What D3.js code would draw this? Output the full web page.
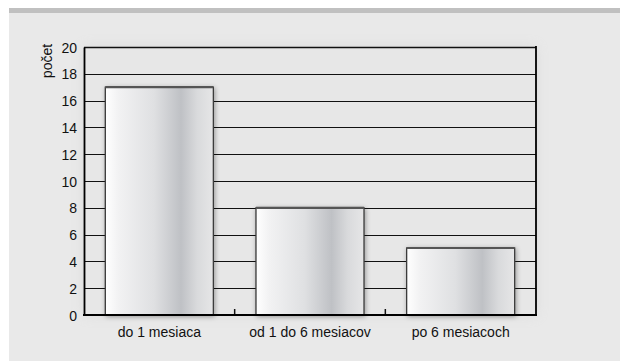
<!DOCTYPE html>
<html><head><meta charset="utf-8">
<script src="https://cdn.jsdelivr.net/npm/d3@7"></script>
<style>
html,body{margin:0;padding:0;background:#fff;}
svg{display:block;}
text{font-family:"Liberation Sans",Arial,sans-serif;fill:#111;}
</style></head>
<body>
<script>
const categories = ["do 1 mesiaca", "od 1 do 6 mesiacov", "po 6 mesiacoch"];
const values = [17, 8, 5];
const yTicks = [0, 2, 4, 6, 8, 10, 12, 14, 16, 18, 20];
const yLabel = "počet";

const W = 620, H = 361;
const svg = d3.select("body").append("svg").attr("width", W).attr("height", H);
const defs = svg.append("defs");

const grad = defs.append("linearGradient").attr("id", "barGrad").attr("x1", "0").attr("x2", "1").attr("y1", "0").attr("y2", "0");
[[0, "#ffffff"], [0.12, "#f2f2f3"], [0.45, "#dfe0e2"], [0.7, "#bfc1c5"], [0.85, "#d9dadc"], [1, "#e6e6e7"]]
  .forEach(([o, c]) => grad.append("stop").attr("offset", o).attr("stop-color", c));

const sh = defs.append("filter").attr("id", "shadow").attr("x", "-20%").attr("y", "-20%").attr("width", "140%").attr("height", "140%");
sh.append("feGaussianBlur").attr("in", "SourceAlpha").attr("stdDeviation", 2.5).attr("result", "b");
sh.append("feOffset").attr("in", "b").attr("dx", 1).attr("dy", 1).attr("result", "o");
sh.append("feComponentTransfer").attr("in", "o").attr("result", "o2").append("feFuncA").attr("type", "linear").attr("slope", 0.35);
const m = sh.append("feMerge");
m.append("feMergeNode").attr("in", "o2");
m.append("feMergeNode").attr("in", "SourceGraphic");

const pshadow = defs.append("filter").attr("id", "pshadow").attr("x", "-10%").attr("y", "-10%").attr("width", "120%").attr("height", "120%");
pshadow.append("feGaussianBlur").attr("stdDeviation", 6);

// top band and panel
svg.append("rect").attr("x", 9).attr("y", 8).attr("width", W - 9).attr("height", 5).attr("fill", "#c0c0c0");
svg.append("rect").attr("x", 9).attr("y", 13).attr("width", W - 9).attr("height", H - 13).attr("fill", "#e9e9e9");

const margin = {left: 84, right: 84, top: 47, bottom: 46};
const x0 = margin.left, x1 = 536, yTop = 47, yBot = 315;

const x = d3.scaleBand().domain(categories).range([x0, x1]).paddingInner(0.283).paddingOuter(0.1415);
const y = d3.scaleLinear().domain([0, 20]).range([yBot, yTop]);

// plot area soft shadow
svg.append("rect").attr("x", x0).attr("y", yTop).attr("width", x1 - x0).attr("height", yBot - yTop)
  .attr("fill", "#cfcfcf").attr("filter", "url(#pshadow)").attr("opacity", 0.6);
svg.append("rect").attr("x", x0).attr("y", yTop).attr("width", x1 - x0).attr("height", yBot - yTop).attr("fill", "#e7e7e7");

// gridlines
svg.append("g").selectAll("line").data(yTicks.filter(d => d > 0)).join("line")
  .attr("x1", x0).attr("x2", x1).attr("y1", d => Math.round(y(d)) + 0.5).attr("y2", d => Math.round(y(d)) + 0.5)
  .attr("stroke", "#111").attr("stroke-width", d => d === 20 ? 1.6 : 1.1);

// bars
svg.append("g").selectAll("rect").data(values).join("rect")
  .attr("x", (d, i) => x(categories[i]))
  .attr("y", d => y(d))
  .attr("width", x.bandwidth())
  .attr("height", d => yBot - y(d))
  .attr("fill", "url(#barGrad)")
  .attr("stroke", "#3a3a3a").attr("stroke-width", 1.3)
  .attr("filter", "url(#shadow)");
svg.append("g").selectAll("line").data(values).join("line")
  .attr("x1", (d, i) => x(categories[i])).attr("x2", (d, i) => x(categories[i]) + x.bandwidth())
  .attr("y1", d => y(d)).attr("y2", d => y(d))
  .attr("stroke", "#555").attr("stroke-width", 2.2);

// axes
const yAxis = d3.axisLeft(y).tickValues(yTicks).tickSize(0).tickPadding(7);
const gy = svg.append("g").attr("transform", `translate(${x0},0)`).call(yAxis);
gy.select(".domain").attr("stroke", "#000").attr("stroke-width", 1.8);
gy.selectAll("text").attr("font-size", 14).attr("font-family", "Liberation Sans, Arial, sans-serif").attr("fill", "#111").attr("dy", "0.36em");

const xAxis = d3.axisBottom(x).tickSize(0).tickPadding(9);
const gx = svg.append("g").attr("transform", `translate(0,${yBot})`).call(xAxis);
gx.select(".domain").remove();
gx.selectAll("text").attr("font-size", 14).attr("font-family", "Liberation Sans, Arial, sans-serif").attr("fill", "#111").attr("dy", "0.9em");

// category boundary ticks
const bounds = categories.slice(1).map(c => x(c) - x.step() * x.paddingInner() / 2);
svg.append("g").selectAll("line").data(bounds).join("line")
  .attr("x1", d => d).attr("x2", d => d).attr("y1", yBot).attr("y2", yBot - 6)
  .attr("stroke", "#111").attr("stroke-width", 1.5);

svg.append("line").attr("x1", x0 - 1).attr("x2", x1 + 1).attr("y1", yBot).attr("y2", yBot).attr("stroke", "#000").attr("stroke-width", 2.2);
svg.append("line").attr("x1", x1).attr("x2", x1).attr("y1", yTop - 1).attr("y2", yBot).attr("stroke", "#000").attr("stroke-width", 1.8);

svg.append("text").attr("transform", `translate(52,61) rotate(-90)`).attr("text-anchor", "middle")
  .attr("font-size", 14).text(yLabel);
</script>
</body></html>
